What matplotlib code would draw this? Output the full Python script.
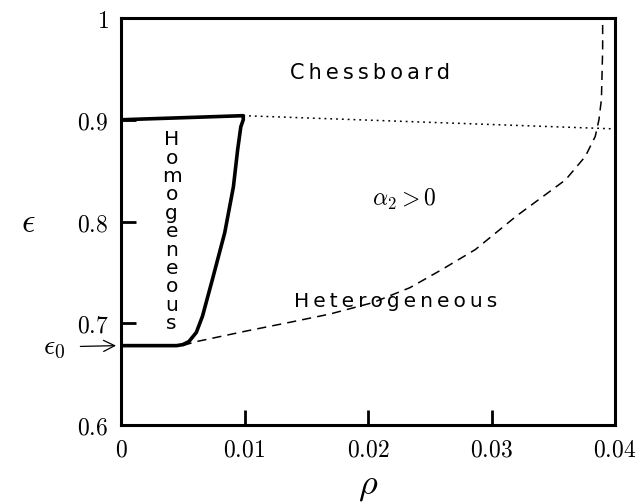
import matplotlib
matplotlib.use('Agg')
import matplotlib.pyplot as plt

plt.rcParams['mathtext.fontset'] = 'cm'

# boundary of the homogeneous region (thick line)
homo_x = [0.0, 0.0045, 0.0050, 0.0055, 0.0061, 0.0066, 0.0074, 0.0084, 0.0091, 0.00945, 0.0097, 0.0099, 0.0099, 0.005, 0.0]
homo_y = [0.678, 0.678, 0.679, 0.682, 0.691, 0.707, 0.743, 0.789, 0.834, 0.871, 0.893, 0.900, 0.904, 0.902, 0.900]

# heterogeneous boundary (dashed)
het_x = [0.0050, 0.0060, 0.0102, 0.0137, 0.0169, 0.0204, 0.0234, 0.0260, 0.0287, 0.0320, 0.0360,
         0.0376, 0.0384, 0.0387, 0.0389, 0.0390, 0.0390]
het_y = [0.678, 0.6817, 0.6925, 0.701, 0.709, 0.7203, 0.735, 0.7529, 0.7725, 0.8052, 0.841,
         0.864, 0.8836, 0.900, 0.920, 0.969, 1.0]

# chessboard boundary (dotted)
chess_x = [0.0099, 0.04]
chess_y = [0.904, 0.891]

eps0 = 0.678
xticks = [0, 0.01, 0.02, 0.03, 0.04]
yticks = [0.6, 0.7, 0.8, 0.9, 1.0]
xtick_labels = ['$0$', '$0.01$', '$0.02$', '$0.03$', '$0.04$']
ytick_labels = ['$0.6$', '$0.7$', '$0.8$', '$0.9$', '$1$']

fig = plt.figure(figsize=(6.42, 5.04), dpi=100)
ax = fig.add_axes([121/642, 1-425/504, (615-121)/642, (425-18)/504])

ax.plot(homo_x, homo_y, color='black', lw=2.6, solid_joinstyle='round')
ax.plot(het_x, het_y, color='black', lw=1.1, dashes=(6, 4))
ax.plot(chess_x, chess_y, color='black', lw=1.1, dashes=(1.2, 2.6))

ax.set_xlim(0, 0.04)
ax.set_ylim(0.6, 1.0)
ax.set_xticks(xticks)
ax.set_xticklabels(xtick_labels, fontsize=17)
ax.set_yticks(yticks)
ax.set_yticklabels(ytick_labels, fontsize=17)
ax.tick_params(direction='in', length=11, width=2, pad=9)
for s in ax.spines.values():
    s.set_linewidth(2.2)

sp = '\u2009'
ax.text(0.0202, 0.946, sp.join('Chessboard'), fontsize=15, ha='center', va='center', family='DejaVu Sans')
ax.text(0.0222, 0.721, sp.join('Heterogeneous'), fontsize=14.5, ha='center', va='center', family='DejaVu Sans')
ax.text(0.0041, 0.79, '\n'.join('Homogeneous'), fontsize=14.5, ha='center', va='center',
        linespacing=0.96, family='DejaVu Sans')
ax.text(0.0229, 0.822, r'$\alpha_2 > 0$', fontsize=17, ha='center', va='center')

ax.annotate(r'$\epsilon_0$', xy=(-0.0004, eps0), xytext=(54/642, 1-347/504),
            textcoords='figure fraction', fontsize=20, ha='center', va='center',
            arrowprops=dict(arrowstyle='->', lw=0.9, color='black', shrinkA=9, shrinkB=0),
            annotation_clip=False)

fig.text(28/642, 1-222/504, r'$\epsilon$', fontsize=24, ha='center', va='center')
fig.text(368/642, 1-486/504, r'$\rho$', fontsize=26, ha='center', va='center')

fig.savefig('out.png', dpi=100)
